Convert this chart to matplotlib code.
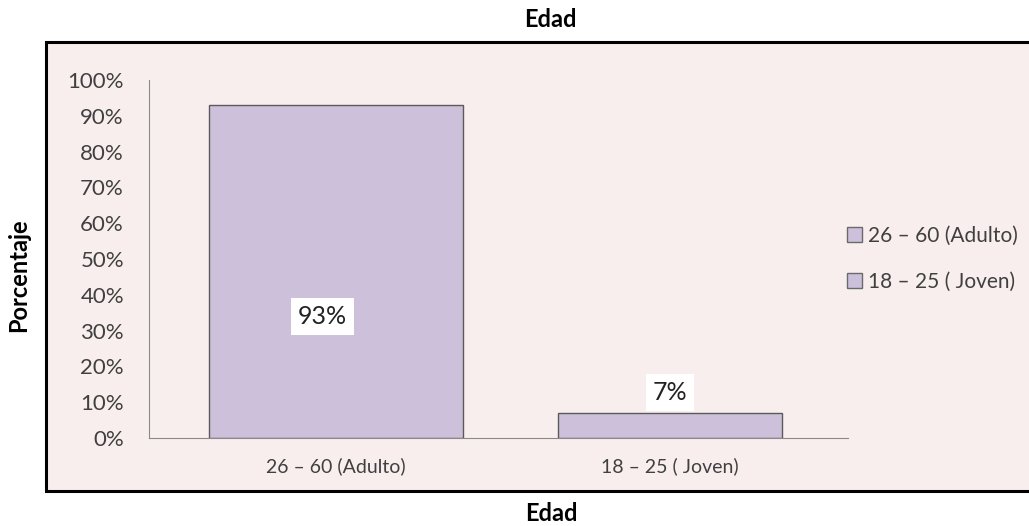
import matplotlib.pyplot as plt
from matplotlib.patches import Rectangle, Patch
from matplotlib.ticker import PercentFormatter

# Data
categories = ["26 \u2013 60 (Adulto)", "18 \u2013 25 ( Joven)"]
values = [0.93, 0.07]
value_labels = ["93%", "7%"]
yticks = [0, 0.1, 0.2, 0.3, 0.4, 0.5, 0.6, 0.7, 0.8, 0.9, 1.0]

bar_color = "#CCC0DA"
bg_color = "#F9EEEE"
text_color = "#404040"

plt.rcParams["font.family"] = ["Lato", "DejaVu Sans"]

fig = plt.figure(figsize=(10.29, 5.26), dpi=100)

# pink chart area with dark frame
frame = Rectangle((0.0447, 0.066), 0.96, 0.854, transform=fig.transFigure,
                  facecolor=bg_color, edgecolor="black", linewidth=2.2, zorder=-5)
fig.patches.append(frame)

ax = fig.add_axes([0.1448, 0.1673, 0.6793, 0.6806])
ax.set_facecolor("none")
ax.set_zorder(2)

x = range(len(categories))
bar_widths = [0.76, 0.67]
bars = ax.bar(x, values, width=bar_widths, color=bar_color, edgecolor="#5a5a5a", linewidth=1.0)

ax.set_xlim(-0.56, 1.533)
ax.set_ylim(0, 1.0)
ax.set_yticks(yticks)
ax.yaxis.set_major_formatter(PercentFormatter(1.0, decimals=0))
ax.set_xticks(list(x))
ax.set_xticklabels(categories)
ax.tick_params(axis="both", length=0, colors=text_color)
ax.tick_params(axis="y", pad=18, labelsize=16)
ax.tick_params(axis="x", pad=14, labelsize=14)

for side in ["top", "right"]:
    ax.spines[side].set_visible(False)
ax.spines["left"].set_color("#8a8a8a")
ax.spines["bottom"].set_color("#8a8a8a")

# value labels in white boxes
label_pos = [0.34, 0.128]
label_x = [-0.04, 0.0]
for i, (lab, yp) in enumerate(zip(value_labels, label_pos)):
    ax.text(i + label_x[i], yp, lab, ha="center", va="center",
            fontsize=18, color="#222222",
            bbox=dict(facecolor="white", edgecolor="none", pad=5))

handles = [Patch(facecolor=bar_color, edgecolor="#6a6a6a") for _ in categories]
fig.legend(handles, categories, loc="center left", bbox_to_anchor=(0.805, 0.508),
           frameon=False, fontsize=15, handlelength=0.7, handleheight=0.7,
           handletextpad=0.3, labelspacing=1.25, labelcolor=text_color)

fig.text(0.535, 0.963, "Edad", ha="center", va="center", fontsize=17, fontweight="bold")
fig.text(0.536, 0.024, "Edad", ha="center", va="center", fontsize=17, fontweight="bold")
fig.text(0.018, 0.477, "Porcentaje", ha="center", va="center", rotation=90,
         fontsize=17, fontweight="bold")

fig.savefig("out.png", dpi=100)
